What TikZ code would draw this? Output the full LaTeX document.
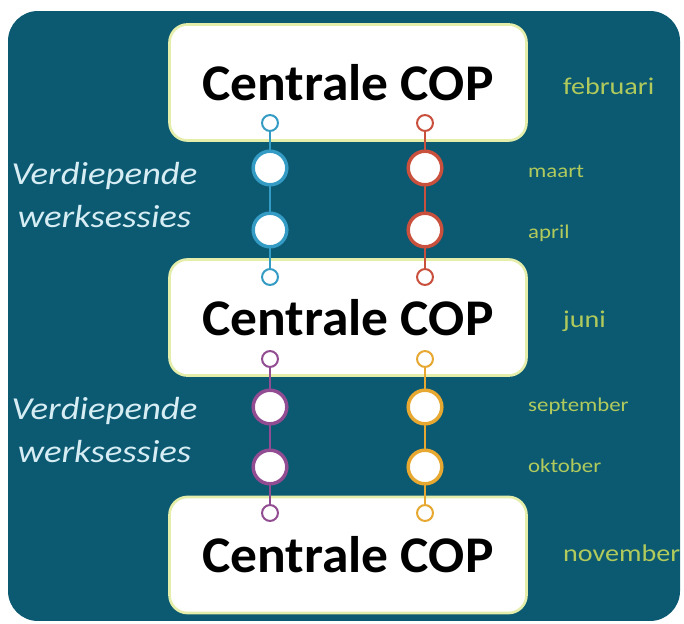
\documentclass[tikz,border=0pt]{standalone}
\usepackage{fontspec}
\setmainfont{Carlito}
\newfontfamily\copfont[FakeStretch=1.04]{Carlito}
\newfontfamily\sessionfont[FakeStretch=1.15]{Carlito}
\newfontfamily\monthfont[FakeStretch=1.17]{Carlito}
\usepackage{tikz-network}

\definecolor{copteal}{RGB}{12,89,114}
\definecolor{copborder}{RGB}{228,238,170}
\definecolor{monthgreen}{RGB}{176,202,92}
\definecolor{sessiontext}{RGB}{214,237,244}
\definecolor{lineblue}{RGB}{52,156,196}
\definecolor{linered}{RGB}{200,80,60}
\definecolor{linepurple}{RGB}{146,76,146}
\definecolor{lineorange}{RGB}{230,168,48}

\newcommand{\copsize}{\copfont\bfseries\fontsize{48.8}{55}\selectfont}

\tikzset{
  copbox/.style={minimum width=11.9cm, minimum height=3.87cm, rounded corners=0.6cm,
    draw=copborder, line width=2.5pt},
  bigdot/.style={draw=#1, line width=3.3pt},
  smalldot/.style={draw=#1, line width=1.9pt},
  session/.style={align=center, inner sep=0pt, text=sessiontext,
    font=\sessionfont\itshape\fontsize{30.3}{40.8}\selectfont},
  month/.style={anchor=west, inner sep=0pt, text=monthgreen,
    font=\monthfont\fontsize{18.5}{22}\selectfont},
  bigmonth/.style={month, font=\monthfont\fontsize{22.8}{27}\selectfont}
}

\begin{document}
\begin{tikzpicture}

\SetVertexStyle[Shape=circle, LineWidth=2, FillColor=white, LineColor=black, OuterSep=0, InnerSep=0]
\SetEdgeStyle[LineWidth=2]
\EdgesNotInBG

\useasboundingbox (0,0) rectangle (22.8,20.767);
\fill[copteal, rounded corners=1cm] (0.267,0.067) rectangle (22.667,20.4);

% central meetings
\Vertex[x=11.6,y=18.017,shape=rectangle,color=white,label=Centrale COP,fontsize=\copsize,style={copbox}]{C_1}
\Vertex[x=11.6,y=10.183,shape=rectangle,color=white,label=Centrale COP,fontsize=\copsize,style={copbox}]{C_2}
\Vertex[x=11.6,y=2.267,shape=rectangle,color=white,label=Centrale COP,fontsize=\copsize,style={copbox}]{C_3}

% first round
\Vertex[x=9,y=16.667,size=0.53,style={smalldot=lineblue}]{L_1}
\Vertex[x=9,y=15.167,size=1.12,style={bigdot=lineblue}]{L_2}
\Vertex[x=9,y=13.1,size=1.12,style={bigdot=lineblue}]{L_3}
\Vertex[x=9,y=11.533,size=0.53,style={smalldot=lineblue}]{L_4}
\Vertex[x=14.167,y=16.667,size=0.53,style={smalldot=linered}]{R_1}
\Vertex[x=14.167,y=15.167,size=1.12,style={bigdot=linered}]{R_2}
\Vertex[x=14.167,y=13.1,size=1.12,style={bigdot=linered}]{R_3}
\Vertex[x=14.167,y=11.533,size=0.53,style={smalldot=linered}]{R_4}

\Edge[color=lineblue](L_1)(L_2)
\Edge[color=lineblue](L_2)(L_3)
\Edge[color=lineblue](L_3)(L_4)
\Edge[color=linered](R_1)(R_2)
\Edge[color=linered](R_2)(R_3)
\Edge[color=linered](R_3)(R_4)

% second round
\Vertex[x=9,y=8.8,size=0.53,style={smalldot=linepurple}]{L_5}
\Vertex[x=9,y=7.2,size=1.12,style={bigdot=linepurple}]{L_6}
\Vertex[x=9,y=5.2,size=1.12,style={bigdot=linepurple}]{L_7}
\Vertex[x=9,y=3.667,size=0.53,style={smalldot=linepurple}]{L_8}
\Vertex[x=14.167,y=8.8,size=0.53,style={smalldot=lineorange}]{R_5}
\Vertex[x=14.167,y=7.2,size=1.12,style={bigdot=lineorange}]{R_6}
\Vertex[x=14.167,y=5.2,size=1.12,style={bigdot=lineorange}]{R_7}
\Vertex[x=14.167,y=3.667,size=0.53,style={smalldot=lineorange}]{R_8}

\Edge[color=linepurple](L_5)(L_6)
\Edge[color=linepurple](L_6)(L_7)
\Edge[color=linepurple](L_7)(L_8)
\Edge[color=lineorange](R_5)(R_6)
\Edge[color=lineorange](R_6)(R_7)
\Edge[color=lineorange](R_7)(R_8)

% labels
\node[session] (W_1) at (3.483,14.267) {Verdiepende\\werksessies};
\node[session] (W_2) at (3.483,6.433) {Verdiepende\\werksessies};

\node[bigmonth] (feb) at (18.767,17.9) {februari};
\node[month] (mrt) at (17.6,15.05) {maart};
\node[month] (apr) at (17.6,13.0) {april};
\node[bigmonth] (jun) at (18.767,10.05) {juni};
\node[month] (sep) at (17.6,7.233) {september};
\node[month] (okt) at (17.6,5.25) {oktober};
\node[bigmonth] (nov) at (18.767,2.317) {november};

\end{tikzpicture}
\end{document}
